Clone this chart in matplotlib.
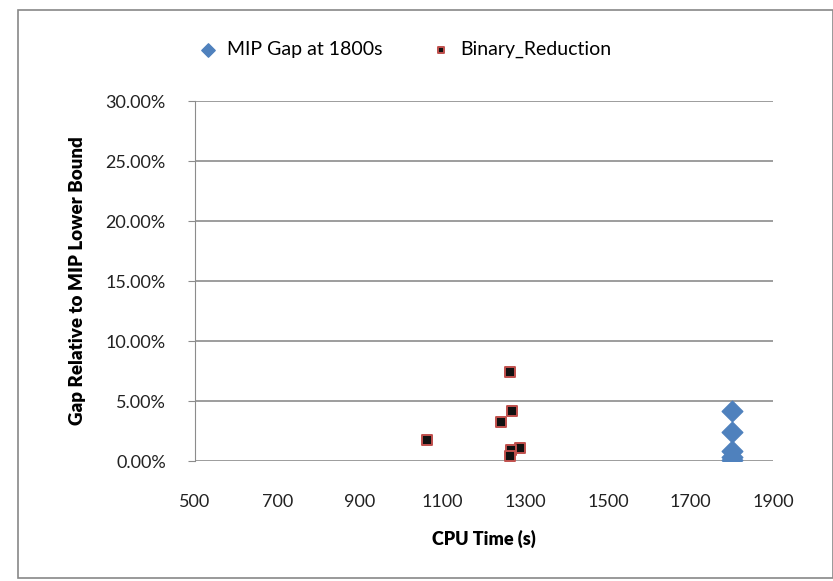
import matplotlib.pyplot as plt
from matplotlib.patches import Rectangle
from matplotlib.ticker import PercentFormatter

plt.rcParams['font.family'] = ['Lato', 'DejaVu Sans']

# data
mip_time = [1800, 1800, 1800, 1800, 1800]
mip_gap = [0.042, 0.024, 0.008, 0.003, 0.001]

bin_time = [1063, 1263, 1268, 1241, 1287, 1266, 1263]
bin_gap = [0.0175, 0.074, 0.042, 0.0325, 0.011, 0.009, 0.004]

x_ticks = [500, 700, 900, 1100, 1300, 1500, 1700, 1900]
y_ticks = [0.0, 0.05, 0.10, 0.15, 0.20, 0.25, 0.30]

fig = plt.figure(figsize=(8.33, 5.81), dpi=100)
ax = fig.add_axes([0.234, 0.2065, 0.694, 0.6195])

# outer chart frame like the spreadsheet chart area
fig.patches.append(Rectangle((18/833, 1-578/581), 815/833, 568/581, transform=fig.transFigure,
                             fill=False, edgecolor='#888888', lw=1.2))

ax.scatter(mip_time, mip_gap, marker='D', s=110, color='#4f81bd', label='MIP Gap at 1800s', zorder=3)
ax.scatter(bin_time, bin_gap, marker='s', s=60, color='#111111', edgecolors='#c0504d', linewidths=1.4,
           label='Binary_Reduction', zorder=3)

ax.set_xlim(500, 1900)
ax.set_ylim(0, 0.30)
ax.set_xticks(x_ticks)
ax.set_yticks(y_ticks)
ax.yaxis.set_major_formatter(PercentFormatter(1.0, decimals=2))
ax.grid(axis='y', color='#8c8c8c', lw=1.2)
ax.set_axisbelow(True)
for s in ['top', 'right', 'bottom']:
	ax.spines[s].set_visible(False)
ax.spines['left'].set_color('#8c8c8c')
ax.tick_params(axis='x', length=0, labelsize=13, pad=24, colors='#222222')
ax.tick_params(axis='y', length=5, color='#8c8c8c', labelsize=13, pad=16, labelcolor='#222222')

ax.set_xlabel('CPU Time (s)', fontsize=13, fontweight='heavy', labelpad=14)
ax.set_ylabel('Gap Relative to MIP Lower Bound', fontsize=13.5, fontweight='heavy', labelpad=14)

ax.legend(loc='lower center', bbox_to_anchor=(0.355, 1.07), ncol=2, frameon=False, fontsize=14,
          handletextpad=0.0, columnspacing=2.0, scatterpoints=1, markerscale=0.65)

plt.savefig('out.png', dpi=100)
